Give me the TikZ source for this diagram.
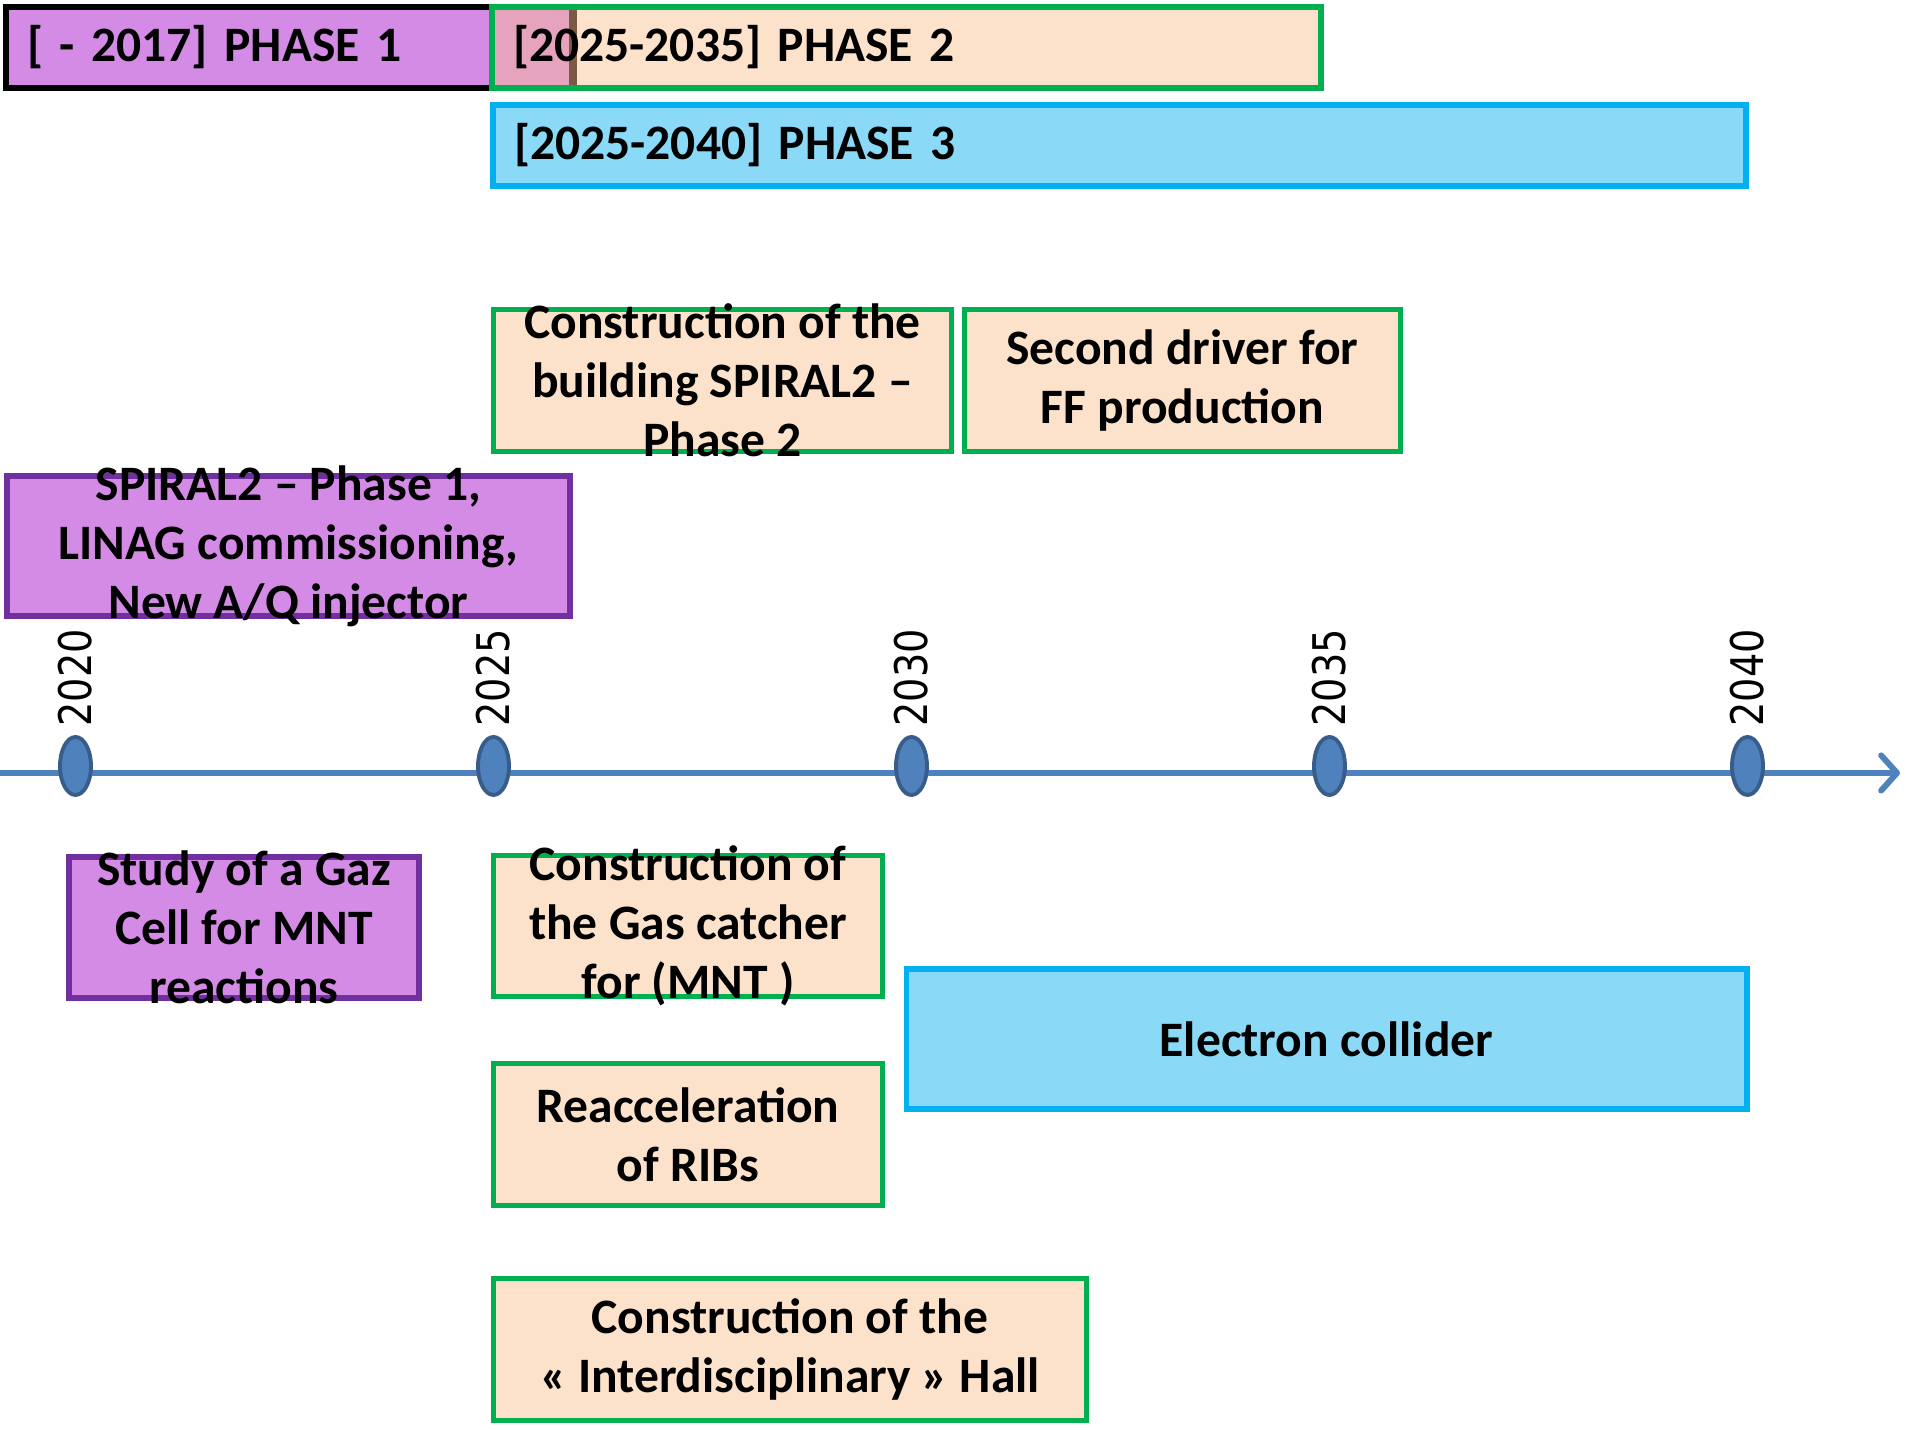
\documentclass[tikz,border=0pt]{standalone}
\usepackage{fontspec}
\setmainfont{Carlito}
\newfontfamily\yearfont[FakeStretch=0.85]{DejaVu Sans}
\usetikzlibrary{arrows.meta,shapes.geometric}
\definecolor{purp}{RGB}{212,139,229}
\definecolor{purpline}{RGB}{112,48,160}
\definecolor{peach}{RGB}{252,225,203}
\definecolor{grn}{RGB}{0,176,80}
\definecolor{sky}{RGB}{137,217,247}
\definecolor{skyline}{RGB}{0,176,240}
\definecolor{axisblue}{RGB}{79,129,189}
\definecolor{dotline}{RGB}{56,93,138}
\definecolor{overlap}{RGB}{230,163,190}
\definecolor{seam}{RGB}{122,90,68}
\begin{document}
\begin{tikzpicture}[
  font=\fontsize{14.1}{16.8}\selectfont\bfseries,
  phase/.style={line width=1.8pt, minimum height=0.81cm, inner xsep=0.21cm,
    inner ysep=0pt, outer sep=0pt, anchor=west, align=left},
  purpbox/.style={draw=purpline, fill=purp, line width=1.7pt, inner sep=0pt, align=center},
  greenbox/.style={draw=grn, fill=peach, line width=1.3pt, inner sep=0pt, align=center},
  skybox/.style={draw=skyline, fill=sky, line width=1.7pt, inner sep=0pt, align=center},
  boxtext/.style={inner sep=0pt, align=center},
  axis/.style={draw=axisblue, line width=1.7pt, -{Straight Barb[round,length=4.5pt,width=10pt]}},
  yeardot/.style={ellipse, draw=dotline, fill=axisblue, line width=1.1pt,
    minimum width=0.31cm, minimum height=0.58cm, inner sep=0pt},
  yearlabel/.style={font=\yearfont\fontsize{12.8}{15}\selectfont, rotate=90,
    anchor=west, inner sep=0pt}
]
\useasboundingbox (0,0) rectangle (19.10,14.30);

\node[phase, draw=black, fill=purp, text width=4.44cm] (ph1) at (0.06,13.825) {[ - 2017] PHASE 1};
\node[phase, draw=grn, fill=peach, text width=7.87cm,
  path picture={
    \fill[overlap] (path picture bounding box.north west) rectangle
      ([xshift=0.78cm]path picture bounding box.south west);
    \draw[seam, line width=2.2pt] ([xshift=0.81cm]path picture bounding box.north west)
      -- ([xshift=0.81cm]path picture bounding box.south west);
  }] (ph2) at (4.92,13.825) {[2025-2035] PHASE 2};
\node[phase, draw=skyline, fill=sky, text width=12.11cm] (ph3) at (4.93,12.845) {[2025-2040] PHASE 3};

\node[greenbox, minimum width=4.58cm, minimum height=1.42cm] (build) at (7.225,10.495) {};
\node[boxtext] (buildtxt) at (build) {Construction of the\\building SPIRAL2 –\\Phase 2};
\node[greenbox, minimum width=4.36cm, minimum height=1.42cm] (driver) at (11.825,10.495)
  {Second driver for\\FF production};
\node[purpbox, minimum width=5.63cm, minimum height=1.40cm] (spiral) at (2.885,8.84) {};
\node[boxtext] (spiraltxt) at (spiral) {SPIRAL2 – Phase 1,\\LINAG commissioning,\\New A/Q injector};

\coordinate (t0) at (0,6.57);
\coordinate (t1) at (19.00,6.57);
\draw[axis] (t0) -- (t1);
\foreach \yr [count=\i from 0] in {2020,2025,2030,2035,2040} {
  \node[yeardot] (d\yr) at (0.755+4.18*\i,6.64) {};
  \node[yearlabel] (l\yr) at ([yshift=0.08cm]d\yr.north) {\yr};
}

\node[purpbox, minimum width=3.50cm, minimum height=1.41cm] (study) at (2.44,5.025) {};
\node[boxtext] (studytxt) at (study) {Study of a Gaz\\Cell for MNT\\reactions};
\node[greenbox, minimum width=3.89cm, minimum height=1.41cm] (gas) at (6.88,5.04) {};
\node[boxtext] (gastxt) at (gas) {Construction of\\the Gas catcher\\for (MNT )};
\node[skybox, minimum width=8.40cm, minimum height=1.40cm] (collider) at (13.265,3.905)
  {Electron collider};
\node[greenbox, minimum width=3.89cm, minimum height=1.42cm] (reacc) at (6.88,2.955)
  {Reacceleration\\of RIBs};
\node[greenbox, minimum width=5.93cm, minimum height=1.42cm] (hall) at (7.90,0.805)
  {Construction of the\\« Interdisciplinary » Hall};
\end{tikzpicture}
\end{document}
